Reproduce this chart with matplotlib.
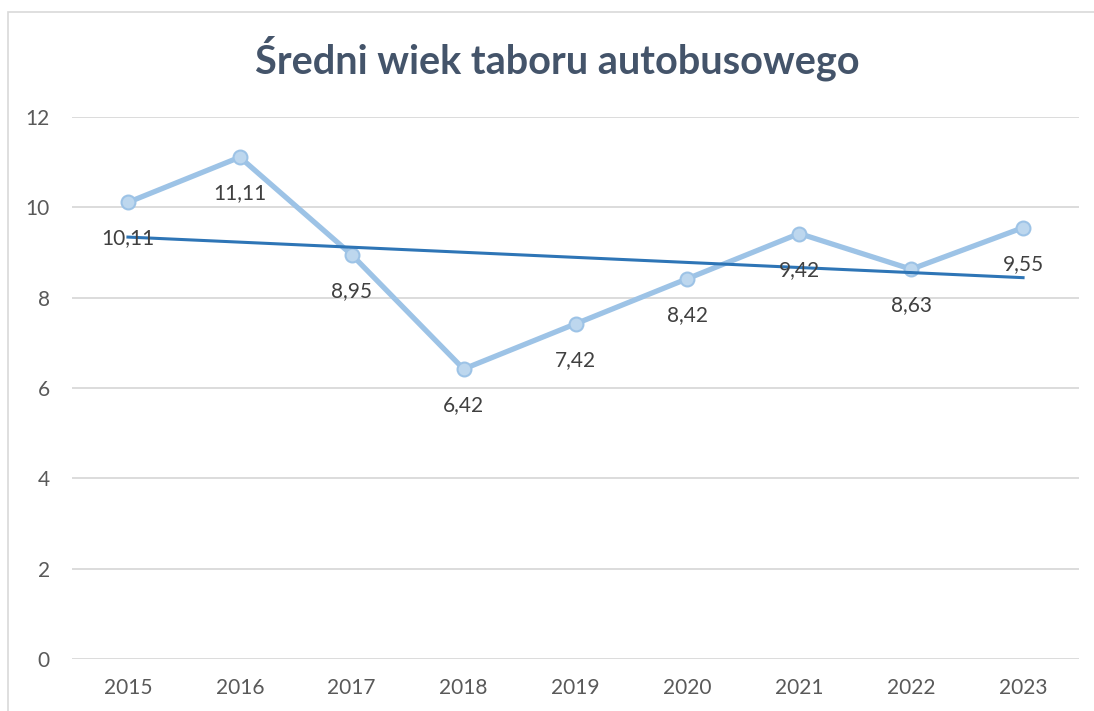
import numpy as np
import matplotlib.pyplot as plt
from matplotlib.patches import Rectangle

# average age of the bus fleet, years
years = ['2015', '2016', '2017', '2018', '2019', '2020', '2021', '2022', '2023']
age = [10.11, 11.11, 8.95, 6.42, 7.42, 8.42, 9.42, 8.63, 9.55]
yticks = [0, 2, 4, 6, 8, 10, 12]

plt.rcParams['font.family'] = ['Lato', 'DejaVu Sans']

W, H = 1094, 711
fig = plt.figure(figsize=(W / 100, H / 100), dpi=100)
ax = fig.add_axes([72 / W, 1 - 659 / H, (1079 - 72) / W, (659 - 117) / H])

x = np.arange(len(years))
ax.plot(x, age, '-o', color='#9DC3E6', lw=3.8, ms=10,
        mfc='#BDD7EE', mec='#9DC3E6', mew=1.5, zorder=3)

# linear trend line
k, b = np.polyfit(x, age, 1)
ax.plot(x, k * x + b, '-', color='#2E75B6', lw=2.2, zorder=4)

for xi, v in zip(x, age):
    ax.annotate(('%.2f' % v).replace('.', ','), (xi, v), xytext=(0, -26),
                textcoords='offset points', ha='center', va='center',
                fontsize=15, color='#404040', zorder=5)

ax.set_xlim(-0.5, len(years) - 0.5)
ax.set_ylim(0, 12)
ax.set_yticks(yticks)
ax.set_xticks(x)
ax.set_xticklabels(years)
ax.grid(axis='y', color='#D9D9D9', lw=1.3)
ax.set_axisbelow(True)
for s in ax.spines.values():
    s.set_visible(False)
ax.tick_params(length=0, labelsize=15, labelcolor='#595959')
ax.tick_params(axis='y', pad=16)
ax.tick_params(axis='x', pad=14)

fig.text(557 / W, 1 - 58 / H, 'Średni wiek taboru autobusowego',
         ha='center', va='center', fontsize=28.5, fontweight='bold',
         color='#44546A')

# chart frame
fig.patches.append(Rectangle((8 / W, -0.1), 1.2, 1 - 12 / H + 0.1,
                             transform=fig.transFigure, fill=False,
                             ec='#D9D9D9', lw=1.2))

fig.savefig('out.png', dpi=100)
